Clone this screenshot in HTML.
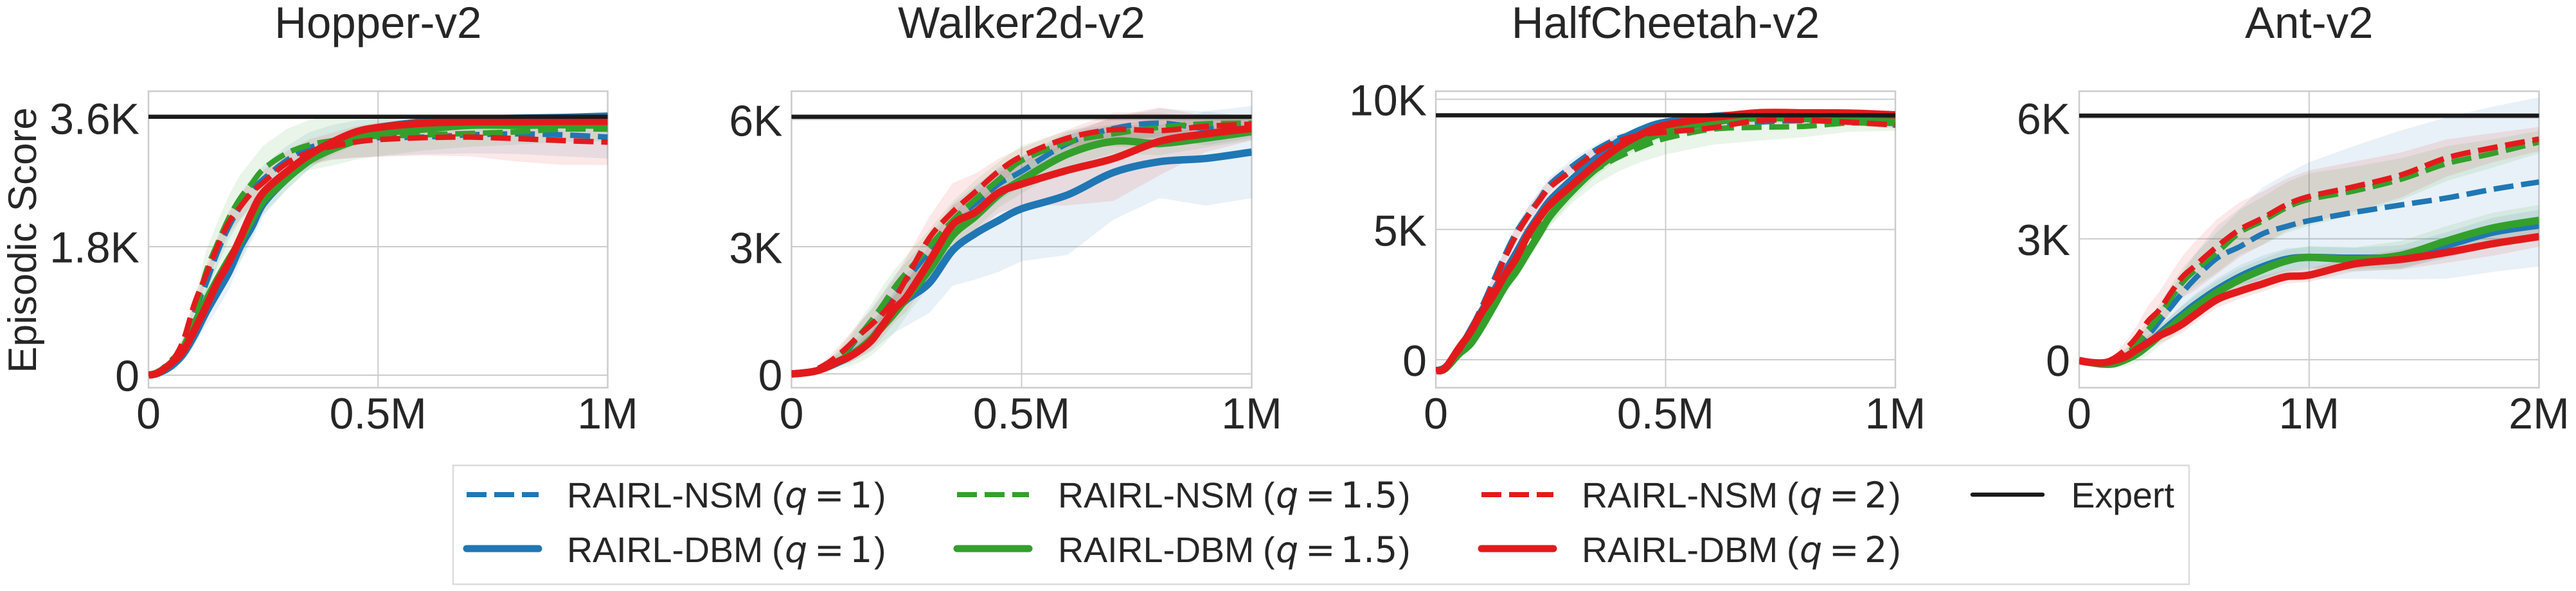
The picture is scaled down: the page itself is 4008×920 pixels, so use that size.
<!DOCTYPE html>
<html lang="en">
<head>
<meta charset="utf-8">
<title>RAIRL episodic scores</title>
<style>
html,body{margin:0;padding:0;background:#fff;}
svg{display:block;}
text{font-family:"Liberation Sans",sans-serif;fill:#262626;text-rendering:geometricPrecision;}
.leg{font-size:55.5px;}
.m{font-family:"DejaVu Sans","Liberation Sans",sans-serif;}
.it{font-family:"DejaVu Sans","Liberation Sans",sans-serif;font-style:italic;}
</style>
</head>
<body>
<svg id="chart" xmlns="http://www.w3.org/2000/svg" width="4008" height="920" viewBox="0 0 4008 920">
  <rect x="0" y="0" width="4008" height="920" fill="#ffffff"/>
  <text transform="translate(56,374) rotate(-90)" text-anchor="middle" font-size="62">Episodic Score</text>
  <g id="panels"></g>
  <g>
    <rect x="705" y="724.5" width="2701" height="185" fill="#ffffff" stroke="#dcdcdc" stroke-width="2.5"/>

    <g>
      <line x1="726" y1="770" x2="838" y2="770" stroke="#1f77b4" stroke-width="8" stroke-dasharray="31 12"/>
      <text class="leg" y="790"><tspan x="882">RAIRL-NSM</tspan><tspan x="1201">(</tspan><tspan x="1221" class="it">q</tspan><tspan x="1267" class="m">=</tspan><tspan x="1322" class="m">1</tspan><tspan x="1360">)</tspan></text>
    </g>
    <g>
      <line x1="726" y1="854" x2="838" y2="854" stroke="#1f77b4" stroke-width="11" stroke-linecap="round"/>
      <text class="leg" y="875"><tspan x="882">RAIRL-DBM</tspan><tspan x="1201">(</tspan><tspan x="1221" class="it">q</tspan><tspan x="1267" class="m">=</tspan><tspan x="1322" class="m">1</tspan><tspan x="1360">)</tspan></text>
    </g>

    <g>
      <line x1="1489" y1="770" x2="1601" y2="770" stroke="#33a02c" stroke-width="8" stroke-dasharray="31 12"/>
      <text class="leg" y="790"><tspan x="1646">RAIRL-NSM</tspan><tspan x="1965">(</tspan><tspan x="1985" class="it">q</tspan><tspan x="2031" class="m">=</tspan><tspan x="2086" class="m">1.5</tspan><tspan x="2176">)</tspan></text>
    </g>
    <g>
      <line x1="1489" y1="854" x2="1601" y2="854" stroke="#33a02c" stroke-width="11" stroke-linecap="round"/>
      <text class="leg" y="875"><tspan x="1646">RAIRL-DBM</tspan><tspan x="1965">(</tspan><tspan x="1985" class="it">q</tspan><tspan x="2031" class="m">=</tspan><tspan x="2086" class="m">1.5</tspan><tspan x="2176">)</tspan></text>
    </g>

    <g>
      <line x1="2305" y1="770" x2="2417" y2="770" stroke="#e31a1c" stroke-width="8" stroke-dasharray="31 12"/>
      <text class="leg" y="790"><tspan x="2461">RAIRL-NSM</tspan><tspan x="2780">(</tspan><tspan x="2800" class="it">q</tspan><tspan x="2846" class="m">=</tspan><tspan x="2901" class="m">2</tspan><tspan x="2939">)</tspan></text>
    </g>
    <g>
      <line x1="2305" y1="854" x2="2417" y2="854" stroke="#e31a1c" stroke-width="11" stroke-linecap="round"/>
      <text class="leg" y="875"><tspan x="2461">RAIRL-DBM</tspan><tspan x="2780">(</tspan><tspan x="2800" class="it">q</tspan><tspan x="2846" class="m">=</tspan><tspan x="2901" class="m">2</tspan><tspan x="2939">)</tspan></text>
    </g>

    <g>
      <line x1="3069" y1="770" x2="3178" y2="770" stroke="#1a1a1a" stroke-width="6.5" stroke-linecap="round"/>
      <text class="leg" x="3222.5" y="790">Expert</text>
    </g>
  </g>
</svg>
<script>
// ---- shared x samples, in millions of steps ----
const steps1M = [0,0.02,0.05,0.075,0.1,0.125,0.15,0.175,0.2,0.225,0.25,0.3,0.35,0.4,0.45,0.5,0.6,0.7,0.8,0.9,1];
const steps2M = [0,0.04,0.1,0.15,0.2,0.25,0.3,0.35,0.4,0.45,0.5,0.6,0.7,0.8,0.9,1,1.2,1.4,1.6,1.8,2];

// ---- Hopper-v2 ----
const hopperTitle = 'Hopper-v2';
const hopperXTicks = [0,0.5,1];
const hopperXLabels = ['0','0.5M','1M'];
const hopperYTicks = [0,1800,3600];
const hopperYLabels = ['0','1.8K','3.6K'];
const hopperExpert = 3620;
const hopperNsmQ1 = [0,40,180,350,875,1280,1720,2080,2360,2585,2745,3005,3185,3265,3307,3327,3335,3367,3380,3367,3335];
const hopperDbmQ1 = [0,25,130,290,555,875,1157,1440,1800,2080,2400,2745,3005,3225,3387,3470,3550,3590,3600,3610,3630];
const hopperNsmQ15 = [0,40,210,390,835,1440,1840,2200,2480,2685,2885,3105,3225,3285,3327,3347,3367,3387,3407,3447,3447];
const hopperDbmQ15 = [0,35,170,370,715,1035,1340,1620,1880,2180,2440,2745,3005,3165,3285,3387,3447,3500,3500,3507,3500];
const hopperNsmQ2 = [0,40,190,470,995,1400,1800,2140,2360,2560,2700,2965,3125,3205,3265,3300,3327,3335,3315,3287,3265];
const hopperDbmQ2 = [0,30,170,330,630,955,1300,1580,1920,2280,2560,2845,3085,3265,3405,3470,3530,3550,3550,3555,3555];
const hopperNsmQ1Std = [0,10,40,80,120,150,180,180,190,190,190,200,220,240,260,260,240,260,280,300,300];
const hopperDbmQ1Std = [0,15,50,90,140,190,230,240,220,200,170,150,120,90,60,50,40,40,40,40,40];
const hopperNsmQ15Std = [0,15,60,120,220,300,300,320,330,330,330,340,350,350,310,280,220,190,180,180,170];
const hopperDbmQ15Std = [0,10,40,70,110,170,220,260,270,240,180,150,110,80,60,50,40,40,40,40,40];
const hopperNsmQ2Std = [0,10,40,70,100,120,140,160,170,170,170,170,180,190,220,240,250,270,320,340,320];
const hopperDbmQ2Std = [0,10,30,50,70,80,90,90,90,80,70,60,60,50,40,40,30,30,30,30,30];

// ---- Walker2d-v2 ----
const walkerTitle = 'Walker2d-v2';
const walkerXTicks = [0,0.5,1];
const walkerXLabels = ['0','0.5M','1M'];
const walkerYTicks = [0,3000,6000];
const walkerYLabels = ['0','3K','6K'];
const walkerExpert = 6065;
const walkerNsmQ1 = [0,15,90,210,365,600,940,1245,1545,1920,2225,2900,3600,4020,4475,4778,5434,5788,5914,5788,5813];
const walkerDbmQ1 = [0,15,60,150,265,400,600,840,1175,1480,1750,2150,2910,3313,3616,3894,4222,4752,5005,5081,5232];
const walkerNsmQ15 = [0,15,80,190,400,635,940,1275,1650,2055,2390,3010,3616,4121,4576,5030,5460,5662,5813,5899,5914];
const walkerDbmQ15 = [0,15,60,150,285,430,600,840,1140,1445,1785,2454,3262,3717,4222,4576,5182,5485,5434,5560,5712];
const walkerNsmQ2 = [0,15,95,230,430,670,940,1175,1445,1785,2255,3212,3818,4298,4777,5131,5560,5762,5737,5838,5889];
const walkerDbmQ2 = [0,15,60,150,285,400,570,800,1175,1545,1820,2656,3515,3818,4273,4475,4803,5080,5485,5660,5788];
const walkerNsmQ1Std = [0,10,30,70,130,200,280,330,400,420,420,350,400,420,400,350,280,250,350,400,250];
const walkerDbmQ1Std = [0,10,30,50,90,150,200,300,400,500,620,707,833,1086,1212,1237,1414,1111,858,1111,1086];
const walkerNsmQ15Std = [0,10,30,70,150,250,350,400,450,420,400,400,450,450,420,350,280,220,200,180,170];
const walkerDbmQ15Std = [0,10,40,100,170,250,320,400,450,450,420,380,320,300,300,320,300,280,280,220,200];
const walkerNsmQ2Std = [0,10,40,100,200,250,300,350,450,500,500,500,680,430,300,200,200,400,420,200,100];
const walkerDbmQ2Std = [0,10,30,50,90,130,170,220,280,320,350,400,450,450,480,500,830,1000,800,430,280];

// ---- HalfCheetah-v2 ----
const cheetahTitle = 'HalfCheetah-v2';
const cheetahXTicks = [0,0.5,1];
const cheetahXLabels = ['0','0.5M','1M'];
const cheetahYTicks = [0,5000,10000];
const cheetahYLabels = ['0','5K','10K'];
const cheetahExpert = 9383;
const cheetahNsmQ1 = [-418,-275,363,1132,2033,3022,4011,4890,5550,6154,6759,7473,8078,8517,8737,8847,9012,9122,9177,9122,9012];
const cheetahDbmQ1 = [-418,-300,330,1100,1870,2600,3350,4100,4890,5550,6150,6980,7750,8410,8850,9120,9340,9400,9350,9230,9180];
const cheetahNsmQ15 = [-418,-330,220,850,1590,2350,3130,3800,4450,5050,5600,6590,7310,7800,8190,8500,8850,8925,8960,9090,9070];
const cheetahDbmQ15 = [-418,-350,220,600,1265,2030,2800,3400,4120,4835,5550,6540,7360,7970,8410,8740,9120,9290,9260,9180,9120];
const cheetahNsmQ2 = [-418,-275,330,1100,1980,2910,3900,4780,5500,6100,6650,7310,7970,8410,8650,8740,8900,9180,9200,9120,9010];
const cheetahDbmQ2 = [-418,-330,440,1045,1813,2470,3240,3900,4780,5440,5990,6760,7530,8190,8680,9010,9290,9480,9480,9470,9400];
const cheetahNsmQ1Std = [0,40,90,130,170,210,250,280,300,300,290,260,220,180,150,120,90,80,70,70,70];
const cheetahDbmQ1Std = [0,30,70,90,110,120,130,150,160,160,170,160,130,100,70,50,40,30,30,30,30];
const cheetahNsmQ15Std = [0,30,100,140,200,250,300,330,360,400,450,520,550,550,580,620,600,520,420,340,280];
const cheetahDbmQ15Std = [0,30,100,170,230,280,320,340,350,350,340,320,290,260,220,190,140,90,70,60,50];
const cheetahNsmQ2Std = [0,50,110,160,220,260,300,320,340,340,320,280,230,190,160,140,110,100,110,120,130];
const cheetahDbmQ2Std = [0,30,70,100,120,130,130,130,130,130,120,110,90,80,70,60,50,50,50,50,50];

// ---- Ant-v2 ----
const antTitle = 'Ant-v2';
const antXTicks = [0,1,2];
const antXLabels = ['0','1M','2M'];
const antYTicks = [0,3000,6000];
const antYLabels = ['0','3K','6K'];
const antExpert = 6056;
const antNsmQ1 = [-20,-60,-78,-40,105,285,605,960,1315,1670,1990,2525,2810,3130,3305,3450,3660,3840,4015,4230,4410];
const antDbmQ1 = [-20,-60,-90,-100,0,150,390,640,890,1120,1350,1740,2060,2310,2490,2540,2520,2560,2845,3165,3340];
const antNsmQ15 = [-20,-60,-85,-60,105,390,745,1100,1530,1920,2200,2665,3165,3450,3770,3980,4195,4480,4870,5120,5400];
const antDbmQ15 = [-20,-60,-110,-100,0,140,355,600,815,1065,1280,1670,1990,2240,2450,2540,2490,2595,2950,3270,3460];
const antNsmQ2 = [-20,-60,-70,35,250,560,960,1245,1670,2060,2310,2810,3235,3520,3840,4050,4300,4585,5010,5260,5475];
const antDbmQ2 = [-20,-60,-78,-20,70,250,425,600,730,890,1100,1495,1705,1885,2060,2100,2380,2490,2665,2880,3055];
const antNsmQ1Std = [0,10,30,80,150,200,250,320,400,500,600,800,950,1150,1300,1450,1650,1850,2000,2050,2100];
const antDbmQ1Std = [0,10,30,60,100,130,160,190,220,240,260,280,290,280,270,260,260,280,320,360,380];
const antNsmQ15Std = [0,10,30,70,150,200,250,280,320,360,400,500,560,600,630,650,600,520,430,350,280];
const antDbmQ15Std = [0,10,30,100,180,200,230,250,270,280,290,290,280,270,270,280,300,350,370,380,380];
const antNsmQ2Std = [0,10,30,80,180,280,380,450,480,520,600,680,680,660,650,650,620,560,460,360,300];
const antDbmQ2Std = [0,10,30,60,100,120,170,190,200,210,200,200,190,190,170,170,180,250,260,300,250];

// ---- panel wiring: layout is kept apart from the data above ----
const NS = 'http://www.w3.org/2000/svg';
const seriesStyle = [
  {key:'nsm-q1',   color:'#1f77b4', width:8.5, dash:'31 12'},
  {key:'dbm-q1',   color:'#1f77b4', width:11.5, dash:null},
  {key:'nsm-q1-5', color:'#33a02c', width:8.5, dash:'31 12'},
  {key:'dbm-q1-5', color:'#33a02c', width:11.5, dash:null},
  {key:'nsm-q2',   color:'#e31a1c', width:8.5, dash:'31 12'},
  {key:'dbm-q2',   color:'#e31a1c', width:11.5, dash:null}
];
const panels = [
  {id:'hopper', title:hopperTitle, steps:steps1M, xMax:1, xTicks:hopperXTicks, xLabels:hopperXLabels, yTicks:hopperYTicks, yLabels:hopperYLabels, expert:hopperExpert,
   means:[hopperNsmQ1,hopperDbmQ1,hopperNsmQ15,hopperDbmQ15,hopperNsmQ2,hopperDbmQ2],
   stds:[hopperNsmQ1Std,hopperDbmQ1Std,hopperNsmQ15Std,hopperDbmQ15Std,hopperNsmQ2Std,hopperDbmQ2Std],
   left:231, right:945.5, top:142, bottom:603.5, y0:584, yTop:184, yTopValue:3600, labelDy:24.5},
  {id:'walker', title:walkerTitle, steps:steps1M, xMax:1, xTicks:walkerXTicks, xLabels:walkerXLabels, yTicks:walkerYTicks, yLabels:walkerYLabels, expert:walkerExpert,
   means:[walkerNsmQ1,walkerDbmQ1,walkerNsmQ15,walkerDbmQ15,walkerNsmQ2,walkerDbmQ2],
   stds:[walkerNsmQ1Std,walkerDbmQ1Std,walkerNsmQ15Std,walkerDbmQ15Std,walkerNsmQ2Std,walkerDbmQ2Std],
   left:1231.5, right:1947.5, top:142, bottom:603.5, y0:582, yTop:186, yTopValue:6000, labelDy:25.5},
  {id:'cheetah', title:cheetahTitle, steps:steps1M, xMax:1, xTicks:cheetahXTicks, xLabels:cheetahXLabels, yTicks:cheetahYTicks, yLabels:cheetahYLabels, expert:cheetahExpert,
   means:[cheetahNsmQ1,cheetahDbmQ1,cheetahNsmQ15,cheetahDbmQ15,cheetahNsmQ2,cheetahDbmQ2],
   stds:[cheetahNsmQ1Std,cheetahDbmQ1Std,cheetahNsmQ15Std,cheetahDbmQ15Std,cheetahNsmQ2Std,cheetahDbmQ2Std],
   left:2234, right:2949, top:142, bottom:603.5, y0:560, yTop:154.5, yTopValue:10000, labelDy:25},
  {id:'ant', title:antTitle, steps:steps2M, xMax:2, xTicks:antXTicks, xLabels:antXLabels, yTicks:antYTicks, yLabels:antYLabels, expert:antExpert,
   means:[antNsmQ1,antDbmQ1,antNsmQ15,antDbmQ15,antNsmQ2,antDbmQ2],
   stds:[antNsmQ1Std,antDbmQ1Std,antNsmQ15Std,antDbmQ15Std,antNsmQ2Std,antDbmQ2Std],
   left:3235, right:3950.5, top:142, bottom:603.5, y0:560, yTop:183.5, yTopValue:6000, labelDy:25}
];

function make(tag, attrs, parent) {
  const el = document.createElementNS(NS, tag);
  for (const k in attrs) { el.setAttribute(k, attrs[k]); }
  parent.appendChild(el);
  return el;
}

// Draws a smooth curve through pixel points (Catmull-Rom to Bezier).
function smoothPath(pts) {
  let d = 'M' + pts[0][0].toFixed(1) + ' ' + pts[0][1].toFixed(1);
  for (let i = 0; i < pts.length - 1; i++) {
    const p0 = pts[Math.max(i - 1, 0)];
    const p1 = pts[i];
    const p2 = pts[i + 1];
    const p3 = pts[Math.min(i + 2, pts.length - 1)];
    const c1x = p1[0] + (p2[0] - p0[0]) / 6;
    const c1y = p1[1] + (p2[1] - p0[1]) / 6;
    const c2x = p2[0] - (p3[0] - p1[0]) / 6;
    const c2y = p2[1] - (p3[1] - p1[1]) / 6;
    d += 'C' + c1x.toFixed(1) + ' ' + c1y.toFixed(1) + ' ' + c2x.toFixed(1) + ' ' + c2y.toFixed(1) + ' ' + p2[0].toFixed(1) + ' ' + p2[1].toFixed(1);
  }
  return d;
}

const root = document.getElementById('panels');
panels.forEach(function (p) {
  const g = make('g', {}, root);
  
  

  const xScale = function (v) { return p.left + (v / p.xMax) * (p.right - p.left); };
  const yScale = function (v) { return p.y0 - (v / p.yTopValue) * (p.y0 - p.yTop); };

  const title = make('text', {x:(p.left + p.right) / 2, y:59, 'text-anchor':'middle', 'font-size':69}, g);
  
  
  title.textContent = p.title;

  p.xTicks.forEach(function (t, i) {
    const grid = make('line', {x1:xScale(t), x2:xScale(t), y1:p.top, y2:p.bottom, stroke:'#cccccc', 'stroke-width':2}, g);
    
    
    const label = make('text', {x:xScale(t), y:667, 'text-anchor':'middle', 'font-size':68}, g);
    
    
    label.textContent = p.xLabels[i];
  });
  p.yTicks.forEach(function (t, i) {
    const grid = make('line', {x1:p.left, x2:p.right, y1:yScale(t), y2:yScale(t), stroke:'#cccccc', 'stroke-width':2}, g);
    
    
    const label = make('text', {x:p.left - 14, y:yScale(t) + p.labelDy, 'text-anchor':'end', 'font-size':68}, g);
    
    
    label.textContent = p.yLabels[i];
  });

  const frame = make('rect', {x:p.left, y:p.top, width:p.right - p.left, height:p.bottom - p.top, fill:'none', stroke:'#cccccc', 'stroke-width':2.5}, g);
  
  

  const clip = make('clipPath', {id:'clip-' + p.id}, g);
  make('rect', {x:p.left, y:p.top, width:p.right - p.left, height:p.bottom - p.top}, clip);
  const plot = make('g', {'clip-path':'url(#clip-' + p.id + ')'}, g);
  
  

  seriesStyle.forEach(function (s, i) {
    const mean = p.means[i];
    const std = p.stds[i];
    const upper = mean.map(function (v, j) { return xScale(p.steps[j]).toFixed(1) + ',' + yScale(v + std[j]).toFixed(1); });
    const lower = mean.map(function (v, j) { return xScale(p.steps[j]).toFixed(1) + ',' + yScale(v - std[j]).toFixed(1); }).reverse();
    const band = make('polygon', {points:upper.concat(lower).join(' '), fill:s.color, 'fill-opacity':0.1}, plot);
    
    
  });
  seriesStyle.forEach(function (s, i) {
    const pts = p.means[i].map(function (v, j) { return [xScale(p.steps[j]), yScale(v)]; });
    const attrs = {d:smoothPath(pts), fill:'none', stroke:s.color, 'stroke-width':s.width, 'stroke-linejoin':'round'};
    if (s.dash) { attrs['stroke-dasharray'] = s.dash; }
    const line = make('path', attrs, plot);
    
    
  });

  const expert = make('line', {x1:p.left, x2:p.right, y1:yScale(p.expert), y2:yScale(p.expert), stroke:'#1a1a1a', 'stroke-width':6.5}, plot);
  
  
});
</script>
</body>
</html>
